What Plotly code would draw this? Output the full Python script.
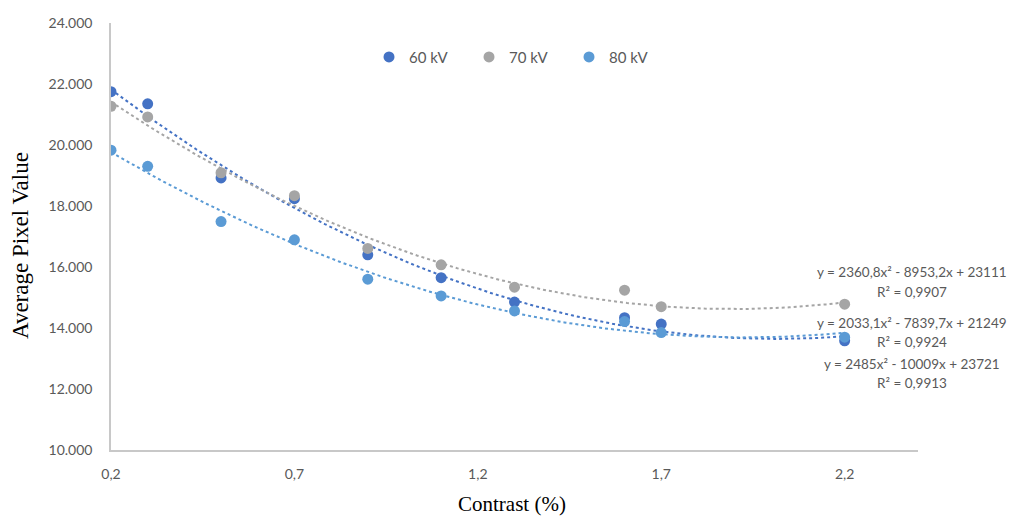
import plotly.graph_objects as go
import numpy as np

contrast = [0.2, 0.3, 0.5, 0.7, 0.9, 1.1, 1.3, 1.6, 1.7, 2.2]
kv60 = [21750, 21350, 18920, 18240, 16400, 15650, 14850, 14340, 14130, 13580]
kv70 = [21270, 20920, 19090, 18340, 16610, 16070, 15340, 15240, 14700, 14780]
kv80 = [19830, 19300, 17490, 16890, 15600, 15050, 14560, 14210, 13850, 13700]

series_names = ["60 kV", "70 kV", "80 kV"]
series_vals = [kv60, kv70, kv80]
colors = ["#4472C4", "#A5A5A5", "#5B9BD5"]

# trendline coefficients as printed on the chart (a, b, c) for y = a x^2 + b x + c,
# in series order 60 kV, 70 kV, 80 kV
fit_coefs = [(2485, -10009, 23721), (2360.8, -8953.2, 23111), (2033.1, -7839.7, 21249)]
fit_eq = ["y = 2485x² - 10009x + 23721",
          "y = 2360,8x² - 8953,2x + 23111",
          "y = 2033,1x² - 7839,7x + 21249"]
fit_r2 = ["R² = 0,9913", "R² = 0,9907", "R² = 0,9924"]
fit_eq_y = [12830, 15820, 14160]
fit_r2_y = [12210, 15190, 13540]

y_ticks = [10000, 12000, 14000, 16000, 18000, 20000, 22000, 24000]
y_ticktext = ["10.000", "12.000", "14.000", "16.000", "18.000", "20.000", "22.000", "24.000"]
x_ticks = [0.2, 0.7, 1.2, 1.7, 2.2]
x_ticktext = ["0,2", "0,7", "1,2", "1,7", "2,2"]
x_title = "Contrast (%)"
y_title = "Average Pixel Value"

fig = go.Figure()

xs = np.linspace(min(contrast), max(contrast), 200)
for name, col, (a, b, c) in zip(series_names, colors, fit_coefs):
    fig.add_trace(go.Scatter(
        x=xs, y=a * xs**2 + b * xs + c, mode="lines",
        line=dict(color=col, width=2, dash="dot"),
        showlegend=False, hoverinfo="skip"))

for name, col, vals in zip(series_names, colors, series_vals):
    fig.add_trace(go.Scatter(
        x=contrast, y=vals, mode="markers", name=name,
        marker=dict(color=col, size=11)))

for txt, yv in list(zip(fit_eq, fit_eq_y)) + list(zip(fit_r2, fit_r2_y)):
    fig.add_annotation(
        x=0.993, y=yv, xref="paper", yref="y", text=txt, showarrow=False,
        xanchor="center", yanchor="middle", align="center",
        font=dict(family="Lato", size=13.5, color="#595959"))

# axis titles
fig.add_annotation(x=0.497, y=-0.1255, xref="paper", yref="paper", text=x_title,
                   showarrow=False, xanchor="center", yanchor="middle",
                   font=dict(family="Liberation Serif", size=21, color="black"))
fig.add_annotation(x=-0.1128, y=0.48, xref="paper", yref="paper", text=y_title,
                   textangle=-90, showarrow=False, xanchor="center", yanchor="middle",
                   font=dict(family="Liberation Serif", size=23, color="black"))

fig.update_layout(
    width=1011, height=509,
    margin=dict(l=103, r=101, t=15, b=67, autoexpand=False),
    paper_bgcolor="white", plot_bgcolor="white",
    font=dict(family="Lato", color="#595959", size=14),
    legend=dict(orientation="h", x=0.3197, y=0.92, xanchor="left", yanchor="middle",
                font=dict(family="Lato", size=15, color="#595959"),
                itemwidth=30, entrywidth=55, entrywidthmode="pixels"),
    xaxis=dict(range=[0.2, 2.4], tickvals=x_ticks, ticktext=x_ticktext,
               showgrid=False, zeroline=False, showline=True, linecolor="#C8C8C8",
               linewidth=1.5, ticks="", ticklabelstandoff=10, automargin=False,
               tickfont=dict(size=14, color="#595959")),
    yaxis=dict(range=[10000, 24000], tickvals=y_ticks, ticktext=y_ticktext,
               showgrid=False, zeroline=False, showline=True, linecolor="#C8C8C8",
               linewidth=1.5, ticks="", ticklabelstandoff=14, automargin=False,
               tickfont=dict(size=14, color="#595959")),
)

fig.write_html("out.html")
